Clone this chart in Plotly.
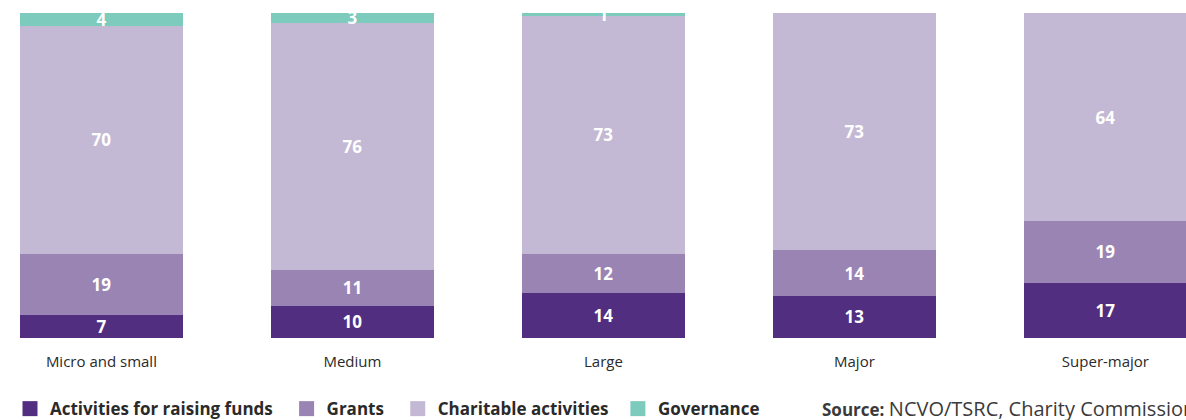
import plotly.graph_objects as go

# Charity spending breakdown by size band (% of total expenditure)
categories = ["Micro and small", "Medium", "Large", "Major", "Super-major"]
raising_funds = [7, 10, 14, 13, 17]
grants = [19, 11, 12, 14, 19]
charitable = [70, 76, 73, 73, 64]
governance = [4, 3, 1, 0, 0]

series = [
    ("Activities for raising funds", raising_funds, "#522E80"),
    ("Grants", grants, "#9A84B4"),
    ("Charitable activities", charitable, "#C4B9D5"),
    ("Governance", governance, "#7CCBBD"),
]
# extra non-breaking spaces after each legend label widen the gap to the next entry
legend_pad = [2, 2, 1, 0]

FONT = "Open Sans"
fig = go.Figure()

for name, vals, color in series:
    fig.add_trace(go.Bar(
        x=categories,
        y=vals,
        name=name,
        marker=dict(color=color, line=dict(width=0)),
        width=0.65,
        text=[str(v) if v > 0 else "" for v in vals],
        textposition="inside",
        insidetextanchor="middle",
        textangle=0,
        textfont=dict(family=FONT, size=17, color="white", weight="bold"),
        showlegend=False,
        hoverinfo="skip",
        cliponaxis=False,
    ))

# Square legend swatches
for (name, vals, color), pad in zip(series, legend_pad):
    fig.add_trace(go.Scatter(
        x=[None], y=[None], mode="markers", name=name + "\u00a0" * pad,
        marker=dict(symbol="square", size=15, color=color),
        showlegend=True,
    ))

fig.add_annotation(
    text="<b>Source:</b> <span style='font-size:20px'>NCVO/TSRC, Charity Commission</span>",
    xref="paper", yref="paper", x=820 / 1186, y=-0.218,
    xanchor="left", yanchor="middle", showarrow=False,
    font=dict(family=FONT, size=17, color="#3a3a3a"),
)

fig.update_layout(
    width=1186, height=420,
    margin=dict(l=0, r=0, t=13, b=82),
    barmode="stack",
    plot_bgcolor="white", paper_bgcolor="white",
    uniformtext=dict(minsize=17, mode="show"),
    xaxis=dict(
        range=[-0.404, 4.321], showgrid=False, zeroline=False,
        showline=False, ticks="", fixedrange=True, ticklabelstandoff=13,
        tickfont=dict(family=FONT, size=15, color="#2a2a2a"),
    ),
    yaxis=dict(range=[0, 100], visible=False, fixedrange=True),
    legend=dict(
        orientation="h", xref="container", yref="container",
        x=10 / 1186, y=0.026, xanchor="left", yanchor="middle",
        traceorder="normal",
        font=dict(family=FONT, size=17, color="#2a2a2a", weight="bold"),
        itemclick=False, itemdoubleclick=False,
    ),
)

fig.write_html("out.html")
